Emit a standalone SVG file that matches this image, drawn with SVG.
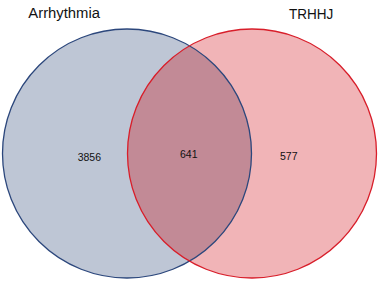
<svg xmlns="http://www.w3.org/2000/svg" width="378" height="281" viewBox="0 0 378 281">
<style>
.lbl{font-family:"Liberation Sans",Arial,sans-serif;fill:#111;}
.title{font-size:14px;}
.num{font-size:10.5px;}
</style>
<defs>
<clipPath id="clipL"><circle cx="127" cy="153.5" r="124.5"/></clipPath>
</defs>
<rect width="378" height="281" fill="#ffffff"/>
<g id="set-arrhythmia-fill"><circle cx="127" cy="153.5" r="124.5" fill="#BEC6D5"/></g>
<g id="set-trhhj-fill"><circle cx="252" cy="153.5" r="124.5" fill="#F1B4B7"/></g>
<g id="overlap"><circle cx="252" cy="153.5" r="124.5" fill="#C28A96" clip-path="url(#clipL)"/></g>
<g id="outlines" fill="none" stroke-width="1.3">
<circle cx="127" cy="153.5" r="124.5" stroke="#2C477C"/>
<circle cx="252" cy="153.5" r="124.5" stroke="#D81E2A"/>
</g>
<g id="labels">
<text class="lbl title" x="28.3" y="18.3" textLength="71.7" lengthAdjust="spacingAndGlyphs">Arrhythmia</text>
<text class="lbl title" x="289" y="19" textLength="44.3" lengthAdjust="spacingAndGlyphs">TRHHJ</text>
<text class="lbl num" x="77.7" y="160.7">3856</text>
<text class="lbl num" x="180" y="158.3">641</text>
<text class="lbl num" x="280" y="160">577</text>
</g>
</svg>
